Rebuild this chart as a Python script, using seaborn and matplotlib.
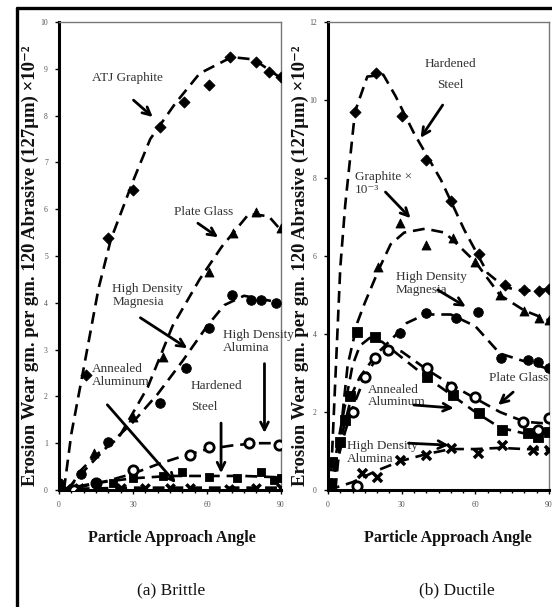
import matplotlib
matplotlib.use("Agg")
import matplotlib.pyplot as plt
from matplotlib.lines import Line2D
import seaborn as sns
import numpy as np

sns.set_theme(style="white")
plt.rcParams['font.family'] = ['Liberation Serif', 'DejaVu Serif']

# ---------------- data: (a) Brittle ----------------
atj_x = [0, 11, 20, 30, 41, 50.5, 61, 69.5, 80, 85, 90]
atj_y = [0.15, 2.46, 5.38, 6.4, 7.76, 8.3, 8.65, 9.25, 9.15, 8.93, 8.83]
atj_cx = [2, 5, 10, 16, 21, 30, 37, 47, 57, 70, 79, 90]
atj_cy = [0, 1.2, 2.6, 4.3, 5.35, 6.6, 7.5, 8.25, 8.9, 9.25, 9.2, 8.8]

pgl_x = [14, 30, 42, 61, 70.5, 80, 90]
pgl_y = [0.79, 1.56, 2.84, 4.66, 5.49, 5.94, 5.6]
pgl_cx = [4, 8.5, 15, 24, 36, 46, 57, 66, 77, 85, 90]
pgl_cy = [0, 0.4, 0.75, 1.1, 2.2, 3.5, 4.5, 5.2, 5.9, 5.85, 5.55]

mgl_x = [0, 9, 20, 41, 51.5, 61, 70, 78, 82, 88]
mgl_y = [0.15, 0.35, 1.03, 1.86, 2.6, 3.46, 4.17, 4.05, 4.05, 4.0]
mgl_cx = [3, 10, 20, 30, 40, 50, 60, 67, 75, 85, 90]
mgl_cy = [0, 0.4, 0.95, 1.45, 2.05, 2.75, 3.5, 3.95, 4.15, 4.05, 4.0]

all_x = [6, 15, 30, 53, 61, 77, 89]
all_y = [0.0, 0.15, 0.43, 0.75, 0.92, 1.0, 0.97]
all_cx = [0, 10, 20, 30, 40, 50, 60, 70, 80, 90]
all_cy = [0, 0.08, 0.2, 0.35, 0.55, 0.72, 0.87, 0.95, 1.0, 1.0]

hsl_x = [15, 22, 30, 42, 50, 61, 72, 82, 87, 90]
hsl_y = [0.15, 0.15, 0.25, 0.3, 0.38, 0.28, 0.25, 0.38, 0.21, 0.25]
hsl_cx = [0, 15, 30, 45, 60, 75, 90]
hsl_cy = [0, 0.15, 0.25, 0.3, 0.3, 0.3, 0.27]

aal_x = [3, 8, 25, 35, 45, 53, 69, 80, 90]
aal_y = [0.02, 0.05, 0.05, 0.05, 0.05, 0.05, 0.03, 0.05, 0.05]
aal_cx = [0, 30, 60, 90]
aal_cy = [0.02, 0.05, 0.05, 0.05]

# ---------------- data: (b) Ductile ----------------
hsr_x = [0, 11, 19.7, 30, 40, 50, 61.5, 72, 80, 86, 90]
hsr_y = [0.1, 9.7, 10.7, 9.6, 8.46, 7.4, 6.05, 5.25, 5.13, 5.1, 5.15]
hsr_cx = [1, 5, 7, 9, 11, 16, 22.5, 27.5, 35, 46, 55.5, 65, 72, 80, 90]
hsr_cy = [0, 5.7, 7.3, 8.5, 9.7, 10.6, 10.65, 10.1, 9.15, 7.95, 6.67, 5.56, 5.2, 5.1, 5.15]

grr_x = [20.5, 29.5, 40, 51, 60, 70, 80, 86, 90]
grr_y = [5.72, 6.84, 6.28, 6.45, 5.85, 5.0, 4.6, 4.4, 4.36]
grr_cx = [3, 6, 8, 12, 15, 21, 25.5, 31, 39.5, 47.5, 51, 60, 70, 80, 90]
grr_cy = [0, 2.0, 3.2, 4.3, 4.8, 5.7, 6.3, 6.6, 6.7, 6.6, 6.4, 5.85, 5.0, 4.6, 4.35]

mgr_x = [29.5, 40, 52, 61, 70.5, 81.5, 85.5, 90]
mgr_y = [4.03, 4.53, 4.4, 4.56, 3.38, 3.33, 3.28, 3.13]
mgr_cx = [2, 6, 10, 13, 20, 28, 32, 39.5, 50, 60, 70, 80, 90]
mgr_cy = [0, 1.5, 2.5, 2.9, 3.5, 4.0, 4.28, 4.5, 4.5, 4.2, 3.5, 3.3, 3.1]

aar_x = [1.7, 5, 7, 9, 12, 19, 40.5, 51, 61.5, 71, 81.5, 85.5, 90]
aar_y = [0.72, 1.23, 1.8, 2.4, 4.05, 3.92, 2.9, 2.44, 1.97, 1.54, 1.46, 1.36, 1.48]
aar_cx = [1, 4, 7, 10, 13, 17, 22, 30, 40, 50, 60, 70, 80, 90]
aar_cy = [0, 1.2, 2.2, 3.2, 3.7, 3.9, 3.8, 3.4, 2.9, 2.45, 2.0, 1.6, 1.45, 1.45]

pgr_x = [12, 10, 15, 19, 24.5, 40.5, 50, 60, 79.5, 85.5, 90]
pgr_y = [0.1, 2.0, 2.9, 3.38, 3.6, 3.13, 2.64, 2.39, 1.74, 1.54, 1.85]
pgr_cx = [1, 4, 7, 10, 15, 20, 25, 30, 40, 50, 60, 70, 80, 90]
pgr_cy = [0, 0.8, 1.5, 2.1, 2.9, 3.4, 3.65, 3.55, 3.1, 2.7, 2.35, 2.0, 1.75, 1.7]

alr_x = [0, 14, 20, 29.5, 40, 50, 61, 71, 83.5, 90]
alr_y = [0.1, 0.43, 0.33, 0.77, 0.9, 1.07, 0.95, 1.15, 1.03, 1.03]
alr_cx = [0, 10, 20, 30, 40, 50, 60, 70, 80, 90]
alr_cy = [0, 0.2, 0.5, 0.75, 0.92, 1.05, 1.05, 1.08, 1.05, 1.03]

xticks = [0, 30, 60, 90]
yticks_a = list(range(0, 11))
yticks_b = list(range(0, 13, 2))

ylabel = "Erosion Wear gm. per gm. 120 Abrasive (127\u03bcm) \u00d710\u207b\u00b2"
xlabel = "Particle Approach Angle"

W, H = 552, 607
fig = plt.figure(figsize=(W / 100, H / 100), dpi=100)
fig.patch.set_facecolor("white")

def fx(px):
    return px / W

def fy(py):
    return 1 - py / H

axA = fig.add_axes([fx(59), fy(490), fx(281) - fx(59), fy(22) - fy(490)])
axB = fig.add_axes([fx(328), fy(490), fx(549) - fx(328), fy(22) - fy(490)])

LW = 1.9
DASH = (4.5, 2.6)

def series(ax, cx, cy, mx, my, marker, ms, open_=False):
    sns.lineplot(x=cx, y=cy, ax=ax, color="black", lw=LW, dashes=False,
                 estimator=None, sort=False, zorder=3).lines[-1].set_dashes(DASH)
    if marker == "x":
        sns.scatterplot(x=mx, y=my, ax=ax, marker="x", s=ms, color="black",
                        linewidth=2.5, zorder=4)
    else:
        sns.scatterplot(x=mx, y=my, ax=ax, marker=marker, s=ms,
                        color="white" if open_ else "black",
                        edgecolor="black", linewidth=2.0 if open_ else 0.6, zorder=4)

# (a) Brittle
series(axA, atj_cx, atj_cy, atj_x, atj_y, "D", 32)
series(axA, pgl_cx, pgl_cy, pgl_x, pgl_y, "^", 42)
series(axA, mgl_cx, mgl_cy, mgl_x, mgl_y, "o", 48)
series(axA, all_cx, all_cy, all_x, all_y, "o", 45, open_=True)
series(axA, hsl_cx, hsl_cy, hsl_x, hsl_y, "s", 36)
series(axA, aal_cx, aal_cy, aal_x, aal_y, "x", 36)

# (b) Ductile
series(axB, hsr_cx, hsr_cy, hsr_x, hsr_y, "D", 32)
series(axB, grr_cx, grr_cy, grr_x, grr_y, "^", 42)
series(axB, mgr_cx, mgr_cy, mgr_x, mgr_y, "o", 48)
series(axB, aar_cx, aar_cy, aar_x, aar_y, "s", 42)
series(axB, pgr_cx, pgr_cy, pgr_x, pgr_y, "o", 45, open_=True)
series(axB, alr_cx, alr_cy, alr_x, alr_y, "x", 42)

for ax, yt, ymax in [(axA, yticks_a, 10), (axB, yticks_b, 12)]:
    ax.set_xlim(0, 90)
    ax.set_ylim(0, ymax)
    ax.set_xticks(xticks)
    ax.set_xticks(np.arange(0, 91, 5), minor=True)
    ax.set_yticks(yt)
    ax.set_xlabel("")
    ax.set_ylabel("")
    ax.tick_params(axis="both", which="major", labelsize=5.5, labelcolor="#555555",
                   length=3, width=1, color="black", direction="out", pad=5,
                   bottom=True, left=True)
    ax.tick_params(axis="x", which="minor", length=2.5, width=1, color="black",
                   direction="out", bottom=True)
    for s in ["left", "bottom"]:
        ax.spines[s].set_color("black")
        ax.spines[s].set_linewidth(2.2)
    for s in ["top", "right"]:
        ax.spines[s].set_color("#777777")
        ax.spines[s].set_linewidth(1.0)
    ax.set_facecolor("white")
    ax.grid(False)

TXT = dict(fontsize=9.5, color="#333333", family=['Liberation Serif', 'DejaVu Serif'])
ARW = dict(arrowstyle="->", lw=2.0, color="black", mutation_scale=14, shrinkA=0, shrinkB=0)

def note(ax, x, y, s, ha="left", ls=1.1):
    ax.text(x, y, s, ha=ha, va="center", linespacing=ls, zorder=6, **TXT)

def arrow(ax, x0, y0, x1, y1):
    ax.annotate("", xy=(x1, y1), xytext=(x0, y0), arrowprops=ARW, zorder=6)

# annotations (a)
note(axA, 27.8, 8.8, "ATJ Graphite", ha="center")
arrow(axA, 30.2, 8.33, 38, 7.97)
note(axA, 58.8, 5.94, "Plate Glass", ha="center")
arrow(axA, 56.3, 5.7, 64.5, 5.4)
note(axA, 21.6, 4.15, "High Density\nMagnesia")
arrow(axA, 33, 3.68, 52, 3.03)
note(axA, 66.5, 3.18, "High Density\nAlumina")
arrow(axA, 83.3, 2.7, 83.3, 1.22)
note(axA, 13.4, 2.44, "Annealed\nAluminum")
arrow(axA, 19.6, 1.82, 47.3, 0.15)
note(axA, 53.5, 2.0, "Hardened\n\nSteel", ls=0.85)
arrow(axA, 65.7, 1.43, 65.7, 0.36)

# annotations (b)
note(axB, 50, 10.65, "Hardened\n\nSteel", ha="center", ls=0.85)
arrow(axB, 46.7, 9.87, 37.7, 9.03)
note(axB, 11, 7.87, "Graphite \u00d7\n10\u207b\u00b3")
arrow(axB, 23.4, 7.64, 33.6, 6.97)
note(axB, 27.5, 5.3, "High Density\nMagnesia")
arrow(axB, 44.7, 5.13, 56.1, 4.7)
note(axB, 77.5, 2.87, "Plate Glass", ha="center")
arrow(axB, 75.4, 2.51, 69.3, 2.18)
note(axB, 16.4, 2.41, "Annealed\nAluminum")
arrow(axB, 35, 2.18, 51.2, 2.1)
note(axB, 7.8, 0.97, "High Density\nAlumina")
arrow(axB, 32.8, 1.2, 49.2, 1.15)

# axis labels and captions
LBL = dict(fontsize=13.5, fontweight="bold", color="#111111", ha="center", va="center")
fig.text(fx(30), fy(266), ylabel, rotation=90, **LBL)
fig.text(fx(300), fy(266), ylabel, rotation=90, **LBL)
fig.text(fx(172), fy(538), xlabel, fontsize=11.5, fontweight="bold", color="#111111",
         ha="center", va="center")
fig.text(fx(448), fy(538), xlabel, fontsize=11.5, fontweight="bold", color="#111111",
         ha="center", va="center")
fig.text(fx(171), fy(590), "(a) Brittle", fontsize=12.5, color="#111111",
         ha="center", va="center")
fig.text(fx(457), fy(590), "(b) Ductile", fontsize=12.5, color="#111111",
         ha="center", va="center")

# outer frame (top and left)
fig.add_artist(Line2D([fx(17), 1.0], [fy(8), fy(8)], color="black", lw=2.4,
                      transform=fig.transFigure))
fig.add_artist(Line2D([fx(17), fx(17)], [fy(8), 0.0], color="black", lw=2.4,
                      transform=fig.transFigure))

fig.savefig("out.png", dpi=100, facecolor="white")
